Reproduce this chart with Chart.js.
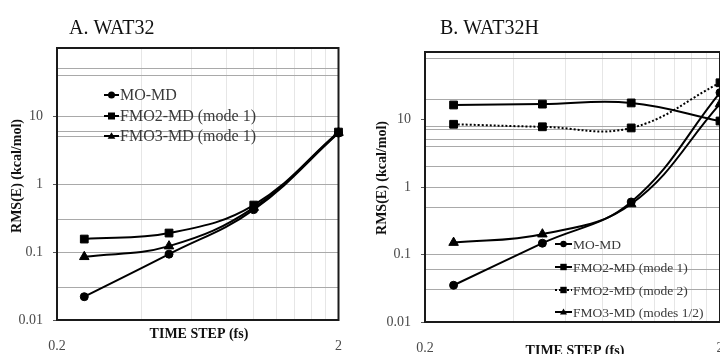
<!DOCTYPE html>
<html><head><meta charset="utf-8">
<script src="https://cdn.jsdelivr.net/npm/chart.js@4.4.1/dist/chart.umd.min.js"></script>
<style>
html,body{margin:0;padding:0;width:720px;height:354px;overflow:hidden;background:#fff}
.wrap{position:absolute;top:0;height:354px}
canvas{display:block}
</style></head><body>
<div class="wrap" style="left:0;width:360px"><canvas id="cA" width="360" height="354" style="width:360px;height:354px"></canvas></div>
<div class="wrap" style="left:360px;width:400px"><canvas id="cB" width="400" height="354" style="width:400px;height:354px"></canvas></div>
<script>
// ---- data ----
const timeSteps = [0.25, 0.5, 1, 2];
const xGridValues = [0.2, 0.4, 0.6, 0.8, 1.0, 1.2, 1.4, 1.6, 1.8, 2.0];
const xLabelValues = [0.2, 2];
const yLabelValues = [0.01, 0.1, 1, 10];
const yGridA = [0.01, 0.03, 0.1, 0.3, 1, 5, 6, 10, 40, 50, 100];
const yGridB = [0.01, 0.03, 0.06, 0.1, 0.5, 1, 2, 4, 5, 7, 8, 20, 80, 100];

const wat32_MO   = [0.022, 0.093, 0.42, 5.6];
const wat32_FMO2 = [0.155, 0.19, 0.49, 5.8];
const wat32_FMO3 = [0.085, 0.122, 0.45, 5.7];

const wat32h_MO     = [0.035, 0.147, 0.6, 25];
const wat32h_FMO2m1 = [16.4, 16.9, 17.6, 9.5];
const wat32h_FMO2m2 = [8.5, 7.8, 7.5, 35];
const wat32h_FMO3   = [0.15, 0.2, 0.56, 17];

const labelsA = ['MO-MD', 'FMO2-MD (mode 1)', 'FMO3-MD (mode 1)'];
const labelsB = ['MO-MD', 'FMO2-MD (mode 1)', 'FMO2-MD (mode 2)', 'FMO3-MD (modes 1/2)'];

const SERIF = '"Liberation Serif", "Times New Roman", serif';

function pts(ys) { return timeSteps.map((x, i) => ({ x: x, y: ys[i] })); }

function ds(label, ys, style, dash) {
  const r = style === 'circle' ? 4 : 5.5;
  return {
    label, data: pts(ys), borderColor: '#000', backgroundColor: '#000',
    borderWidth: 2, borderDash: dash || [], tension: 0.4,
    pointStyle: style, pointRadius: r, pointBackgroundColor: '#000', pointBorderColor: '#000',
    pointBorderWidth: 1, clip: false
  };
}

function marker(ctx, style, x, y, r) {
  ctx.beginPath();
  if (style === 'circle') { ctx.arc(x, y, r, 0, Math.PI * 2); }
  else if (style === 'rect') { ctx.rect(x - r, y - r, 2 * r, 2 * r); }
  else if (style === 'triangle') {
    ctx.moveTo(x, y - r * 1.1); ctx.lineTo(x + r * 1.1, y + r * 0.8); ctx.lineTo(x - r * 1.1, y + r * 0.8); ctx.closePath();
  }
  ctx.fill();
}

const decor = {
  id: 'decor',
  beforeDatasetsDraw(chart, args, o) {
    const { ctx, chartArea: a } = chart;
    ctx.save();
    ctx.strokeStyle = '#1a1a1a'; ctx.lineWidth = 2;
    ctx.strokeRect(a.left, a.top, a.right - a.left, a.bottom - a.top);
    ctx.restore();
  },
  afterDraw(chart, args, o) {
    const { ctx } = chart;
    ctx.save();
    // panel title
    ctx.fillStyle = '#111'; ctx.font = o.titleSize + 'px ' + SERIF;
    ctx.textBaseline = 'middle'; ctx.textAlign = 'left';
    ctx.fillText(o.title, o.titleX, o.titleY);
    // x axis title
    ctx.font = 'bold ' + o.axTitleSize + 'px ' + SERIF;
    ctx.textAlign = 'center';
    ctx.fillText('TIME STEP (fs)', o.xTitleX, o.xTitleY);
    // y axis title
    ctx.save();
    ctx.translate(o.yTitleX, o.yTitleY);
    ctx.rotate(-Math.PI / 2);
    ctx.fillText('RMS(E) (kcal/mol)', 0, 0);
    ctx.restore();
    // legend
    ctx.font = o.legSize + 'px ' + SERIF;
    ctx.textAlign = 'left';
    chart.data.datasets.forEach((d, i) => {
      const y = o.legY[i];
      ctx.strokeStyle = '#000'; ctx.fillStyle = '#000'; ctx.lineWidth = 2;
      ctx.setLineDash(d.borderDash || []);
      ctx.beginPath(); ctx.moveTo(o.legX, y); ctx.lineTo(o.legX + o.legLen, y); ctx.stroke();
      ctx.setLineDash([]);
      marker(ctx, d.pointStyle, o.legX + o.legLen / 2, y, o.legMarker);
      ctx.fillStyle = '#3a3a3a';
      ctx.fillText(d.label, o.legX + o.legLen + 1, y + 1);
    });
    ctx.restore();
  }
};

function makeChart(id, datasets, gridVals, pad, yWidth, xHeight, deco) {
  return new Chart(document.getElementById(id), {
    type: 'line',
    data: { datasets },
    plugins: [decor],
    options: {
      responsive: false, animation: false, devicePixelRatio: 1,
      layout: { padding: pad },
      plugins: { legend: { display: false }, tooltip: { enabled: false }, decor: deco },
      scales: {
        x: {
          type: 'logarithmic', min: 0.2, max: 2,
          afterBuildTicks: (s) => { s.ticks = xGridValues.map(v => ({ value: v })); },
          afterFit: (s) => { s.height = xHeight; },
          ticks: {
            autoSkip: false, maxRotation: 0, padding: 18, color: '#4a4a4a',
            font: { family: SERIF, size: 14 },
            callback: (v) => xLabelValues.some(t => Math.abs(t - v) < 1e-9) ? String(v) : ''
          },
          grid: { color: '#e6e6e6', lineWidth: 1, drawTicks: false },
          border: { display: false }
        },
        y: {
          type: 'logarithmic', min: 0.01, max: 100,
          afterBuildTicks: (s) => {
            const all = Array.from(new Set(gridVals.concat(yLabelValues))).sort((a, b) => a - b);
            s.ticks = all.map(v => ({ value: v }));
          },
          afterFit: (s) => { s.width = yWidth; },
          ticks: {
            autoSkip: false, padding: 10, color: '#4a4a4a',
            font: { family: SERIF, size: 14 },
            callback: (v) => yLabelValues.includes(v) ? String(v) : ''
          },
          grid: {
            lineWidth: 1, tickLength: 4,
            color: (c) => (c.tick && gridVals.includes(c.tick.value)) ? '#a9a9a9' : 'rgba(0,0,0,0)',
            tickColor: (c) => (c.tick && yLabelValues.includes(c.tick.value)) ? '#555' : 'rgba(0,0,0,0)'
          },
          border: { display: false }
        }
      }
    }
  });
}

makeChart('cA', [
  ds(labelsA[0], wat32_MO, 'circle'),
  ds(labelsA[1], wat32_FMO2, 'rect'),
  ds(labelsA[2], wat32_FMO3, 'triangle')
], yGridA, { top: 48, left: 0, right: 5, bottom: 0 }, 57, 34, {
  title: 'A. WAT32', titleX: 69, titleY: 29, titleSize: 20,
  axTitleSize: 14,
  xTitleX: 199, xTitleY: 334,
  yTitleX: 17, yTitleY: 176,
  legX: 104, legLen: 15, legMarker: 3.5, legSize: 16, legY: [95, 116, 136]
});

makeChart('cB', [
  ds(labelsB[0], wat32h_MO, 'circle'),
  ds(labelsB[1], wat32h_FMO2m1, 'rect'),
  ds(labelsB[2], wat32h_FMO2m2, 'rect', [2, 2]),
  ds(labelsB[3], wat32h_FMO3, 'triangle')
], yGridB, { top: 52, left: 0, right: 40, bottom: 0 }, 65, 32, {
  title: 'B. WAT32H', titleX: 80, titleY: 29, titleSize: 20,
  axTitleSize: 14,
  xTitleX: 215, xTitleY: 351,
  yTitleX: 22, yTitleY: 178,
  legX: 195, legLen: 17, legMarker: 3.2, legSize: 13.5, legY: [244, 267, 290, 312]
});
</script>
</body></html>
